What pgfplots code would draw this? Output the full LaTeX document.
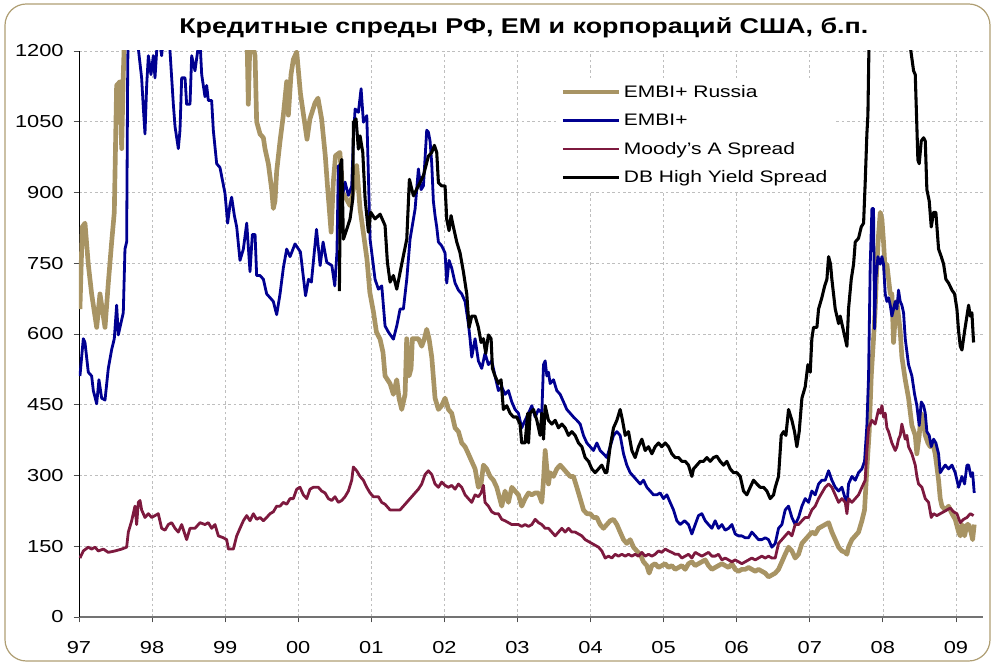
\documentclass[border=0pt]{standalone}
\usepackage{fontspec}
\setmainfont{Liberation Sans}[FakeStretch=1.26]
\usepackage{pgfplots}
\pgfplotsset{compat=1.18}
\definecolor{russia}{RGB}{168,148,100}
\definecolor{embi}{RGB}{0,0,145}
\definecolor{moody}{RGB}{125,25,62}
\definecolor{gridc}{RGB}{190,190,190}
\definecolor{frame}{RGB}{175,158,115}
\begin{document}
\begin{tikzpicture}
% outer frame (px -> pt at 0.75)
\path (-59.25pt,-36.75pt) rectangle (685.5pt,462.75pt);
\draw[frame, line width=0.9pt, rounded corners=16pt] (-55.5pt,-33pt) rectangle (683.25pt,459.75pt);
\begin{axis}[
    scale only axis,
    width=678pt, height=424.5pt,
    xmin=1997, xmax=2009.37,
    ymin=0, ymax=1200,
    xtick={1997,1998,...,2009},
    xticklabels={97,98,99,00,01,02,03,04,05,06,07,08,09},
    ytick={0,150,...,1200},
    axis lines=left,
    axis line style={-},
    x axis line style={draw=black!55, line width=0.8pt},
    y axis line style={draw=black, line width=0.6pt},
    tick align=outside,
    major tick length=4pt,
    tick style={black!70, line width=0.6pt},
    grid=major,
    major grid style={gridc, dash pattern=on 2pt off 2pt, line width=0.5pt},
    tick label style={font=\fontsize{13}{15}\selectfont},
    /pgf/number format/assume math mode=true,
    /pgf/number format/1000 sep={},
    xticklabel style={yshift=-11pt},
    yticklabel style={xshift=-4pt},
    title={Кредитные спреды РФ, ЕМ и корпораций США, б.п.},
    title style={font=\fontsize{16}{19}\selectfont\bfseries, anchor=center, at={(0.492,1.027)}},
    legend style={at={(0.528,0.952)}, anchor=north west, draw=none, fill=white,
        font=\fontsize{12.5}{14}\selectfont, row sep=7pt, inner sep=3pt},
    legend cell align=left,
    legend image code/.code={\draw[#1] (0pt,0pt) -- (42pt,0pt);},
    every axis plot/.append style={line join=round},
]
\addplot[russia, line width=3.5pt] table {
1997.013 653
1997.045 827
1997.082 835
1997.127 748
1997.173 685
1997.242 614
1997.287 685
1997.356 614
1997.401 708
1997.447 795
1997.483 858
1997.515 1127
1997.561 1135
1997.584 993
1997.606 1150
1997.629 1260
1997.700 1500
1998.000 1700
1998.600 4000
1999.000 2200
1999.200 1500
1999.295 1260
1999.317 1087
1999.340 1230
1999.372 1215
1999.409 1190
1999.431 1050
1999.477 1024
1999.523 1016
1999.545 993
1999.591 961
1999.637 906
1999.659 866
1999.682 882
1999.705 945
1999.751 1009
1999.796 1064
1999.842 1135
1999.865 1064
1999.901 1150
1999.933 1182
1999.979 1198
2000.030 1110
2000.120 1013
2000.160 1056
2000.230 1090
2000.270 1100
2000.320 1056
2000.370 978
2000.400 914
2000.450 816
2000.480 922
2000.510 978
2000.570 985
2000.610 900
2000.660 886
2000.710 872
2000.755 907
2000.800 957
2000.846 865
2000.890 816
2000.940 759
2000.980 688
2001.030 646
2001.070 604
2001.120 589
2001.160 561
2001.188 511
2001.256 495
2001.302 472
2001.348 503
2001.379 464
2001.416 440
2001.462 472
2001.484 590
2001.516 511
2001.544 527
2001.562 590
2001.598 590
2001.644 590
2001.690 574
2001.726 590
2001.758 610
2001.790 590
2001.827 551
2001.872 464
2001.918 440
2001.963 448
2002.009 464
2002.055 440
2002.100 432
2002.146 401
2002.192 393
2002.237 369
2002.283 361
2002.328 346
2002.374 330
2002.420 314
2002.465 275
2002.502 283
2002.534 322
2002.579 314
2002.625 298
2002.671 290
2002.716 275
2002.785 235
2002.830 267
2002.876 243
2002.922 275
2002.967 267
2003.013 259
2003.058 235
2003.104 251
2003.151 263
2003.196 259
2003.242 263
2003.287 263
2003.333 243
2003.356 290
2003.379 353
2003.402 314
2003.424 282
2003.447 306
2003.493 298
2003.538 314
2003.584 322
2003.630 314
2003.675 306
2003.721 298
2003.766 298
2003.812 275
2003.858 251
2003.903 227
2003.949 219
2003.995 219
2004.040 211
2004.086 211
2004.131 196
2004.177 188
2004.223 196
2004.268 204
2004.314 207
2004.360 196
2004.405 180
2004.451 164
2004.496 156
2004.542 164
2004.588 148
2004.633 140
2004.679 133
2004.724 117
2004.770 109
2004.802 93
2004.839 109
2004.884 113
2004.930 105
2004.975 109
2005.021 113
2005.067 105
2005.112 109
2005.158 101
2005.204 105
2005.249 109
2005.295 101
2005.340 113
2005.386 117
2005.432 109
2005.477 113
2005.523 117
2005.569 121
2005.614 109
2005.660 101
2005.705 105
2005.751 109
2005.797 113
2005.842 109
2005.888 105
2005.934 113
2005.979 101
2006.025 97
2006.070 101
2006.116 101
2006.162 105
2006.207 101
2006.253 97
2006.298 101
2006.344 97
2006.390 93
2006.435 85
2006.481 89
2006.527 93
2006.572 101
2006.618 117
2006.663 133
2006.709 148
2006.755 140
2006.800 125
2006.846 133
2006.892 156
2006.937 164
2006.983 172
2007.028 180
2007.074 176
2007.120 188
2007.165 192
2007.211 196
2007.257 200
2007.302 180
2007.348 164
2007.394 148
2007.439 140
2007.485 137
2007.508 133
2007.530 148
2007.576 164
2007.622 172
2007.667 180
2007.713 204
2007.749 227
2007.781 314
2007.813 393
2007.841 511
2007.872 590
2007.895 653
2007.918 748
2007.941 811
2007.964 858
2007.987 843
2008.009 795
2008.032 732
2008.055 748
2008.078 716
2008.101 685
2008.123 685
2008.146 582
2008.169 638
2008.192 669
2008.214 638
2008.237 606
2008.260 551
2008.306 503
2008.351 464
2008.397 406
2008.443 385
2008.465 346
2008.497 385
2008.525 432
2008.557 409
2008.580 385
2008.616 369
2008.648 361
2008.680 369
2008.716 346
2008.762 290
2008.785 251
2008.808 235
2008.853 227
2008.899 235
2008.945 219
2008.990 207
2009.036 180
2009.059 172
2009.082 196
2009.118 172
2009.150 196
2009.173 196
2009.205 180
2009.228 164
2009.250 196
};
\addlegendentry{EMBI+ Russia}
\addplot[embi, line width=2.1pt] table {
1997.013 511
1997.059 590
1997.082 582
1997.127 519
1997.173 511
1997.196 480
1997.242 452
1997.273 503
1997.310 464
1997.356 460
1997.401 527
1997.447 567
1997.483 590
1997.515 661
1997.538 598
1997.584 630
1997.606 645
1997.629 780
1997.652 795
1997.666 1150
1997.684 1400
1997.750 1500
1997.812 1205
1997.857 1143
1997.880 1080
1997.903 1024
1997.926 1127
1997.949 1190
1997.985 1150
1998.017 1190
1998.040 1143
1998.063 1200
1998.095 1230
1998.131 1190
1998.154 1230
1998.222 1260
1998.245 1200
1998.291 1087
1998.314 1040
1998.359 993
1998.382 1032
1998.405 1143
1998.451 1143
1998.473 1087
1998.519 1087
1998.542 1190
1998.587 1158
1998.624 1200
1998.656 1220
1998.679 1150
1998.724 1103
1998.747 1127
1998.770 1095
1998.815 1095
1998.838 1032
1998.884 961
1998.929 953
1998.998 898
1999.034 835
1999.066 874
1999.089 890
1999.126 851
1999.158 827
1999.203 756
1999.249 780
1999.295 835
1999.340 732
1999.372 811
1999.409 811
1999.431 724
1999.477 724
1999.523 716
1999.568 685
1999.614 677
1999.659 669
1999.705 641
1999.751 685
1999.796 740
1999.842 780
1999.888 764
1999.956 791
2000.030 774
2000.100 681
2000.140 716
2000.180 710
2000.250 822
2000.300 745
2000.340 795
2000.390 752
2000.460 745
2000.500 702
2000.530 774
2000.549 957
2000.595 886
2000.641 922
2000.686 894
2000.732 914
2000.755 1013
2000.778 1077
2000.823 1070
2000.860 1120
2000.892 1049
2000.938 1063
2000.960 936
2000.983 801
2001.051 716
2001.097 695
2001.143 702
2001.188 617
2001.234 604
2001.302 589
2001.348 617
2001.394 653
2001.439 653
2001.485 716
2001.530 801
2001.599 865
2001.644 950
2001.681 906
2001.713 914
2001.758 1032
2001.781 1028
2001.804 1009
2001.827 961
2001.849 882
2001.872 851
2001.895 827
2001.918 795
2001.963 787
2002.009 772
2002.032 708
2002.064 756
2002.100 740
2002.146 708
2002.192 693
2002.237 685
2002.283 669
2002.328 622
2002.351 590
2002.374 551
2002.420 590
2002.465 543
2002.511 527
2002.556 559
2002.602 535
2002.648 543
2002.693 511
2002.739 480
2002.785 488
2002.830 472
2002.876 480
2002.922 456
2002.967 440
2003.013 432
2003.058 401
2003.104 417
2003.151 432
2003.196 448
2003.242 424
2003.287 440
2003.333 432
2003.356 535
2003.379 543
2003.402 511
2003.424 519
2003.447 495
2003.493 503
2003.538 480
2003.584 472
2003.630 456
2003.675 440
2003.721 432
2003.766 424
2003.812 417
2003.858 409
2003.903 385
2003.949 369
2003.995 361
2004.040 353
2004.086 369
2004.131 353
2004.177 346
2004.223 338
2004.268 361
2004.314 385
2004.360 393
2004.405 385
2004.451 346
2004.496 322
2004.542 306
2004.588 298
2004.633 290
2004.679 282
2004.724 290
2004.770 275
2004.816 267
2004.861 259
2004.907 259
2004.952 263
2004.998 251
2005.044 259
2005.089 243
2005.135 227
2005.181 204
2005.226 196
2005.286 204
2005.340 196
2005.386 176
2005.432 196
2005.477 215
2005.523 219
2005.569 204
2005.614 196
2005.660 188
2005.705 204
2005.751 188
2005.797 196
2005.842 184
2005.888 188
2005.934 196
2005.979 176
2006.025 172
2006.070 172
2006.116 168
2006.162 168
2006.207 180
2006.253 172
2006.298 164
2006.344 164
2006.390 168
2006.435 164
2006.481 148
2006.527 156
2006.572 188
2006.618 196
2006.663 227
2006.709 235
2006.755 211
2006.800 196
2006.846 211
2006.892 235
2006.937 251
2006.983 243
2007.028 267
2007.074 259
2007.120 282
2007.165 290
2007.211 290
2007.257 310
2007.302 290
2007.348 275
2007.394 267
2007.439 275
2007.485 251
2007.508 235
2007.530 282
2007.576 298
2007.622 290
2007.667 306
2007.713 314
2007.749 330
2007.781 406
2007.804 511
2007.827 748
2007.850 866
2007.872 866
2007.886 611
2007.904 716
2007.932 764
2007.964 748
2007.987 764
2008.009 748
2008.032 685
2008.055 669
2008.078 677
2008.101 661
2008.123 638
2008.146 653
2008.169 669
2008.192 653
2008.214 693
2008.237 669
2008.260 661
2008.283 645
2008.306 590
2008.351 535
2008.397 511
2008.434 472
2008.465 448
2008.497 406
2008.525 456
2008.557 448
2008.580 432
2008.602 393
2008.634 385
2008.662 361
2008.694 377
2008.725 369
2008.762 346
2008.785 306
2008.817 314
2008.853 322
2008.899 314
2008.945 322
2008.990 306
2009.036 275
2009.082 298
2009.118 282
2009.150 322
2009.173 322
2009.205 298
2009.228 306
2009.250 263
};
\addlegendentry{EMBI+}
\addplot[moody, line width=2.1pt] table {
1997.013 125
1997.059 140
1997.127 148
1997.173 144
1997.219 148
1997.264 140
1997.333 144
1997.401 137
1997.492 140
1997.584 144
1997.652 148
1997.675 180
1997.721 204
1997.766 235
1997.789 196
1997.812 243
1997.835 247
1997.857 227
1997.903 211
1997.949 219
1997.994 211
1998.040 215
1998.085 219
1998.131 188
1998.177 184
1998.222 196
1998.268 200
1998.314 188
1998.359 180
1998.405 196
1998.473 164
1998.519 188
1998.587 188
1998.656 200
1998.724 196
1998.770 200
1998.815 188
1998.861 196
1998.907 172
1998.975 168
1999.021 164
1999.044 144
1999.112 144
1999.158 172
1999.203 188
1999.249 204
1999.295 215
1999.340 204
1999.386 219
1999.431 207
1999.477 211
1999.523 204
1999.568 211
1999.614 219
1999.659 223
1999.705 235
1999.751 235
1999.796 243
1999.842 239
1999.888 251
1999.933 251
1999.979 271
2000.024 275
2000.070 259
2000.116 251
2000.161 271
2000.207 275
2000.275 275
2000.321 267
2000.367 263
2000.412 251
2000.458 247
2000.503 255
2000.549 243
2000.595 247
2000.640 255
2000.686 267
2000.732 290
2000.754 318
2000.800 310
2000.846 298
2000.891 290
2000.937 275
2000.983 263
2001.028 255
2001.097 255
2001.142 243
2001.188 239
2001.256 227
2001.325 227
2001.393 227
2001.462 239
2001.507 247
2001.553 255
2001.598 263
2001.644 271
2001.690 282
2001.735 302
2001.781 310
2001.827 302
2001.872 282
2001.918 275
2001.963 286
2002.009 279
2002.055 275
2002.100 279
2002.146 271
2002.192 282
2002.237 275
2002.283 259
2002.328 251
2002.374 243
2002.420 259
2002.465 255
2002.502 263
2002.534 279
2002.556 243
2002.602 235
2002.648 223
2002.693 219
2002.739 219
2002.785 207
2002.830 204
2002.876 200
2002.922 196
2002.967 196
2003.013 196
2003.058 192
2003.104 196
2003.151 192
2003.196 196
2003.242 207
2003.287 200
2003.333 196
2003.379 188
2003.424 188
2003.470 180
2003.516 172
2003.561 180
2003.607 188
2003.652 180
2003.698 188
2003.744 180
2003.789 180
2003.835 176
2003.881 172
2003.926 164
2003.972 160
2004.017 156
2004.063 152
2004.109 148
2004.154 140
2004.200 125
2004.246 129
2004.291 125
2004.337 133
2004.382 129
2004.428 133
2004.474 129
2004.519 133
2004.565 129
2004.610 133
2004.656 129
2004.702 137
2004.747 129
2004.793 133
2004.839 129
2004.884 133
2004.930 140
2004.975 137
2005.021 144
2005.067 140
2005.112 137
2005.158 133
2005.204 133
2005.249 125
2005.295 129
2005.340 133
2005.386 125
2005.432 137
2005.477 133
2005.523 129
2005.569 133
2005.614 137
2005.660 129
2005.705 129
2005.751 133
2005.797 121
2005.842 125
2005.888 121
2005.934 117
2005.979 121
2006.025 117
2006.070 113
2006.116 117
2006.162 121
2006.207 125
2006.253 121
2006.298 125
2006.344 129
2006.390 125
2006.435 129
2006.481 125
2006.527 125
2006.572 156
2006.618 164
2006.663 172
2006.709 180
2006.755 172
2006.800 196
2006.846 196
2006.892 204
2006.937 211
2006.983 211
2007.028 227
2007.074 235
2007.120 251
2007.165 263
2007.211 275
2007.257 282
2007.302 275
2007.348 259
2007.394 243
2007.439 251
2007.485 243
2007.508 219
2007.530 251
2007.576 243
2007.622 251
2007.667 259
2007.713 275
2007.758 290
2007.781 353
2007.804 401
2007.850 417
2007.895 409
2007.941 440
2007.964 432
2007.987 448
2008.009 424
2008.032 432
2008.055 401
2008.078 393
2008.123 369
2008.169 353
2008.192 361
2008.214 377
2008.237 385
2008.260 409
2008.306 377
2008.328 385
2008.351 361
2008.397 346
2008.443 322
2008.465 298
2008.488 282
2008.534 275
2008.580 251
2008.625 243
2008.662 211
2008.694 219
2008.739 215
2008.785 219
2008.831 223
2008.876 227
2008.922 231
2008.967 223
2009.013 219
2009.059 200
2009.104 207
2009.150 211
2009.196 219
2009.241 215
};
\addlegendentry{Moody's A Spread}
\addplot[black, line width=2.3pt] table {
2000.563 691
2000.580 960
2000.595 970
2000.618 801
2000.664 822
2000.709 844
2000.746 886
2000.755 1049
2000.791 1056
2000.823 992
2000.846 1020
2000.883 985
2000.915 886
2000.960 816
2000.992 858
2001.051 844
2001.120 854
2001.188 830
2001.220 752
2001.257 710
2001.302 724
2001.348 695
2001.394 731
2001.439 766
2001.485 801
2001.521 928
2001.576 893
2001.644 914
2001.713 936
2001.781 977
2001.827 985
2001.863 1000
2001.895 985
2001.918 921
2001.963 914
2002.009 914
2002.032 843
2002.064 819
2002.091 851
2002.123 827
2002.169 795
2002.214 772
2002.260 732
2002.306 685
2002.338 614
2002.374 638
2002.420 638
2002.465 614
2002.502 582
2002.534 590
2002.566 559
2002.602 598
2002.639 590
2002.657 527
2002.693 511
2002.739 495
2002.775 503
2002.807 440
2002.853 448
2002.899 432
2002.944 424
2002.990 424
2003.035 409
2003.058 369
2003.104 369
2003.140 432
2003.151 369
2003.173 432
2003.219 440
2003.265 417
2003.310 385
2003.333 432
2003.356 377
2003.379 448
2003.402 432
2003.424 417
2003.470 409
2003.516 417
2003.561 401
2003.607 409
2003.652 401
2003.698 385
2003.744 393
2003.789 385
2003.835 369
2003.881 361
2003.926 338
2003.972 330
2004.017 314
2004.063 306
2004.109 314
2004.154 322
2004.200 306
2004.223 306
2004.268 361
2004.314 401
2004.360 417
2004.405 440
2004.437 417
2004.474 385
2004.519 393
2004.565 353
2004.610 338
2004.656 361
2004.702 377
2004.747 353
2004.793 361
2004.839 346
2004.884 361
2004.930 369
2004.975 361
2005.021 369
2005.067 361
2005.112 346
2005.158 338
2005.204 338
2005.249 330
2005.295 330
2005.340 322
2005.386 298
2005.409 314
2005.455 322
2005.500 330
2005.546 330
2005.591 338
2005.637 330
2005.683 338
2005.728 341
2005.774 330
2005.820 322
2005.865 330
2005.911 314
2005.956 306
2006.002 306
2006.048 298
2006.093 267
2006.139 259
2006.185 275
2006.230 290
2006.276 282
2006.321 275
2006.367 275
2006.413 267
2006.458 251
2006.504 259
2006.527 275
2006.572 298
2006.609 385
2006.641 393
2006.673 385
2006.709 440
2006.755 417
2006.791 393
2006.823 361
2006.855 393
2006.892 464
2006.937 488
2006.974 535
2007.006 519
2007.028 590
2007.051 614
2007.097 614
2007.120 653
2007.165 677
2007.202 701
2007.234 716
2007.257 764
2007.284 748
2007.302 716
2007.348 653
2007.394 622
2007.416 638
2007.462 606
2007.508 574
2007.530 653
2007.567 716
2007.599 748
2007.622 795
2007.667 803
2007.704 827
2007.736 835
2007.758 921
2007.781 1024
2007.795 1064
2007.809 1205
2007.850 1500
2008.000 1700
2008.200 1600
2008.374 1210
2008.420 1158
2008.443 1150
2008.465 1040
2008.479 969
2008.497 961
2008.525 1009
2008.557 1016
2008.580 1009
2008.602 906
2008.634 882
2008.662 827
2008.694 858
2008.725 858
2008.762 780
2008.799 764
2008.831 748
2008.862 716
2008.899 708
2008.945 693
2008.981 685
2009.013 653
2009.036 606
2009.059 574
2009.082 566
2009.118 606
2009.150 638
2009.173 661
2009.196 638
2009.218 645
2009.241 582
};
\addlegendentry{DB High Yield Spread}
\end{axis}
\end{tikzpicture}
\end{document}
